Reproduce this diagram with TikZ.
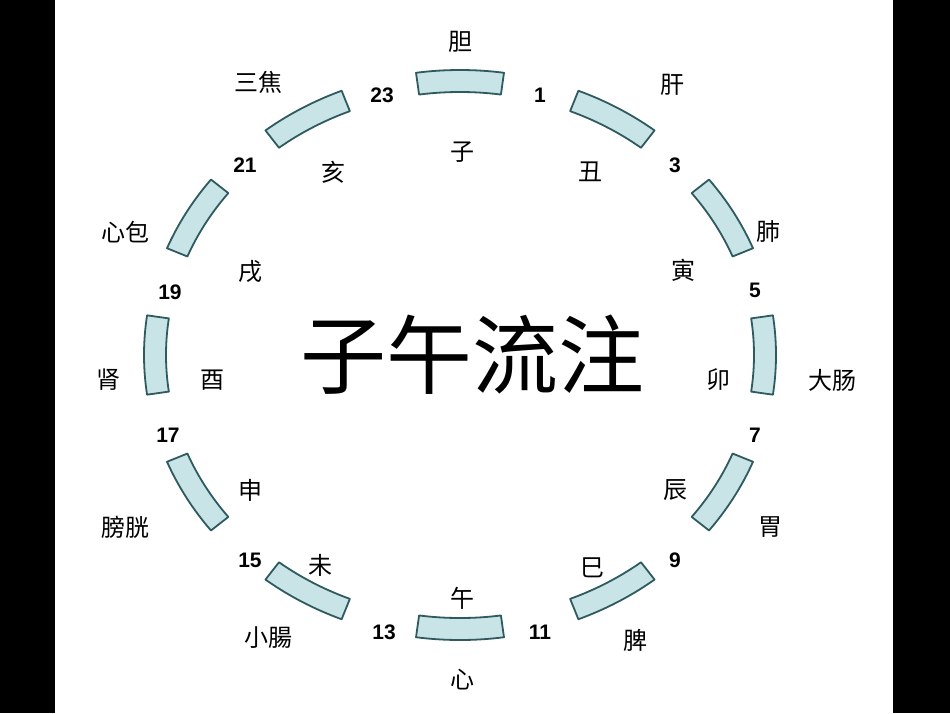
\documentclass[tikz,border=0pt]{standalone}
\usetikzlibrary{calc}
\usepackage{fontspec}
\setmainfont{Liberation Sans}
\newfontfamily\cjk{Noto Sans CJK SC}
\newfontfamily\cjkm{Noto Sans CJK SC Medium}
\begin{document}
\begin{tikzpicture}[x=1pt,y=-1pt,
  seg/.style={fill=segc,draw=segd,line width=1.8pt,line join=round},
  num/.style={font=\bfseries\fontsize{21}{21}\selectfont},
  lab/.style={font=\cjk\fontsize{24}{24}\selectfont}]
\definecolor{segc}{HTML}{C9E4E6}
\definecolor{segd}{HTML}{2F5A60}
\useasboundingbox (0,0) rectangle (950,713);
\fill[white] (0,0) rectangle (950,713);
\fill[black] (0,0) rectangle (55,713);
\fill[black] (893,0) rectangle (950,713);
\coordinate (c) at (460,355);
\foreach \a in {0,30,...,330}{
  \pgfmathsetmacro\sa{-\a-8}
  \pgfmathsetmacro\ea{-\a+8}
  \draw[seg] ($(c)+(\sa:316 and 285)$) arc[start angle=\sa,end angle=\ea,x radius=316,y radius=285]
    -- ($(c)+(\ea:294 and 263)$) arc[start angle=\ea,end angle=\sa,x radius=294,y radius=263] -- cycle;
}
\node[font=\cjk\fontsize{86}{86}\selectfont] (t) at (472,355) {子午流注};
\node[lab] (n1) at (460,42) {胆};
\node[num] (h23) at (382,95) {23};
\node[num] (h1) at (540,95) {1};
\node[lab] (b1) at (462,152) {子};
\node[lab] (n2) at (258,82) {三焦};
\node[num] (h21) at (245,165) {21};
\node[lab] (b2) at (333,172) {亥};
\node[lab] (n3) at (672,85) {肝};
\node[num] (h3) at (675,165) {3};
\node[lab] (b3) at (590,172) {丑};
\node[lab] (n4) at (125,232) {心包};
\node[num] (h19) at (170,292) {19};
\node[lab] (b4) at (250,272) {戌};
\node[lab] (n5) at (768,232) {肺};
\node[lab] (b5) at (683,270) {寅};
\node[num] (h5) at (755,290) {5};
\node[lab] (n6) at (108,380) {肾};
\node[lab] (b6) at (212,380) {酉};
\node[lab] (b7) at (718,380) {卯};
\node[lab] (n7) at (832,380) {大肠};
\node[num] (h17) at (168,435) {17};
\node[num] (h7) at (755,435) {7};
\node[lab] (b8) at (250,490) {申};
\node[lab] (b9) at (675,490) {辰};
\node[lab] (n8) at (125,527) {膀胱};
\node[lab] (n9) at (770,527) {胃};
\node[num] (h15) at (250,560) {15};
\node[lab] (b10) at (320,565) {未};
\node[lab] (b11) at (592,568) {巳};
\node[num] (h9) at (675,560) {9};
\node[lab] (b12) at (462,598) {午};
\node[num] (h13) at (384,632) {13};
\node[num] (h11) at (540,632) {11};
\node[lab] (n10) at (268,638) {小腸};
\node[lab] (n11) at (635,640) {脾};
\node[lab] (n12) at (462,680) {心};
\end{tikzpicture}
\end{document}
